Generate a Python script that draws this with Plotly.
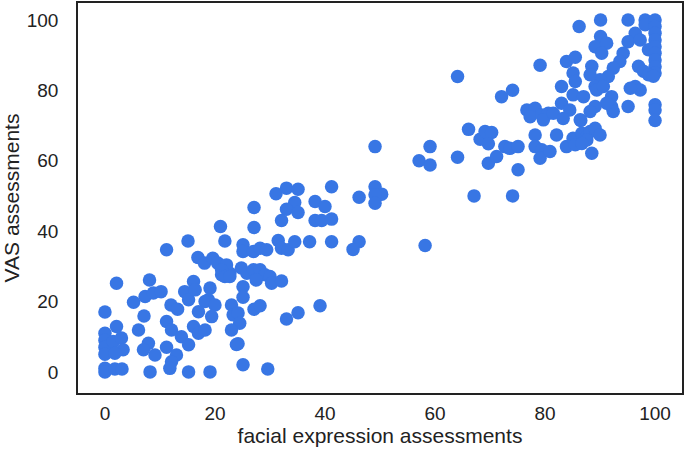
import plotly.graph_objects as go

# facial expression assessments (x) and VAS assessments (y)
facial = [
    0, 0, 0, 0, 0, 0, 0,
    1.5, 3, 3.3, 1.8, 1.8, 3.1,
    2.1, 2.1,
    5.2, 6.1, 7.1, 7.3, 8.1, 8.8, 10.2,
    7.9, 7, 9.1, 8.2,
    11.2, 12.1, 13.9, 15.2, 11.2,
    13, 12.1, 11.8, 15.2, 19.1,
    12, 13.2, 11.2,
    14.5, 15.2, 16.1, 16.4,
    16.1, 17, 18.2,
    19.1, 18.8, 18.2, 20, 17, 19.4,
    21.2, 22.7,
    23, 23.3, 24.2, 24.5, 23, 24.2, 25.1, 29.6,
    15.1, 21.8, 21,
    16.9, 18.1, 19.6, 20.5, 22.1, 21.2, 21.8, 22.7,
    24.8, 25.8, 27, 28.2, 29.1, 27.5, 30, 30.3, 32.1, 25.1, 25.1,
    27.1, 28.2, 33, 35.1, 39.1, 23.9,
    25.1, 25.1, 27, 28.2, 29.4, 31.5, 32.1, 33.3, 34.5, 37.2, 41.2,
    27.1, 27.1, 32.1, 31.1, 33, 35.1, 34.5, 33, 35.1, 38.2, 40, 38.2, 39.4, 41.2, 41.2,
    46.2, 49.1, 50.3, 49.1, 49.1, 49.1, 46.2, 45.1,
    58.2, 57.1, 59.1, 59.1, 64.1, 64.1, 67.1, 74.1,
    66.1, 68.2, 69.1, 70.3, 69.7, 69.7, 71.2,
    72.7, 73.6, 75.1, 75.1,
    72.1, 74.1, 79.1,
    76.7, 78.2, 77.3, 79.4, 80.6, 79.7, 81.5, 83, 84.5, 83.3,
    86.5,
    78.2, 78.2, 79.4, 79.1, 80.9,
    82.1, 83.9, 85.1, 85.5, 86.7, 87.6, 88.2, 89.1, 90, 88.5, 87.6, 86.7,
    83.9, 85.5, 85.1, 85.5, 83, 85.1, 87,
    86.2, 90.1, 95.1, 98.2, 98.2, 100,
    96.4, 95.1, 97.3, 98.8,
    100, 100, 100, 100, 100, 100, 100, 100, 100, 100, 100,
    90.1, 89.1, 91.2, 90.3,
    94.2, 93.6, 92.4, 91.5, 90, 88.5, 88.2, 89.1,
    97, 97.9, 98.8, 99.7, 96.4, 97.3, 95.5,
    89.4, 90.6,
    92.1, 92.1, 92.4, 91.2, 89.1, 88.2, 86.4,
    95.1,
]
vas = [
    17, 11, 9, 7, 5, 1, 0,
    8.6, 9.6, 6.3, 5.3, 0.8, 0.8,
    25.2, 12.9,
    19.8, 11.9, 15.9, 21.4, 26.1, 22.4, 22.8,
    8.1, 6.3, 4.8, 0,
    14.3, 11.9, 10, 7.7, 7,
    4.8, 2.9, 1, 0, 0,
    19, 17.8, 34.7,
    22.8, 20.5, 25.7, 23.3,
    12.9, 11, 11.9,
    23.8, 20.5, 20, 19, 17.1, 15.7,
    27.6, 28,
    19, 16.2, 16.7, 13.8, 11.9, 8, 2, 0.8,
    37.2, 37.2, 41.3,
    32.5, 30.9, 32.3, 30.9, 30.4, 29, 27.1, 27.1,
    29.5, 28, 29, 29, 27.6, 26.1, 27.1, 25.2, 25.8, 24.2, 21.2,
    17.8, 18.8, 15, 16.8, 18.8, 7.8,
    36.1, 34.2, 34.2, 35.1, 34.7, 37.3, 35.1, 34.7, 37, 37, 37,
    46.7, 41, 43, 50.6, 52.2, 51.9, 48.1, 46.2, 45.3, 48.4, 47, 43, 43, 43.4, 52.6,
    49.6, 52.6, 50.5, 50.3, 47.9, 64, 37, 34.8,
    35.9, 60, 58.8, 64, 61, 83.9, 50, 50,
    68.9, 66.1, 68.3, 68, 64.8, 59.3, 61.2,
    64, 63.5, 64, 57.4,
    78.2, 80, 87.1,
    74.4, 74.9, 72.5, 73, 73.5, 71.6, 73.5, 76.3, 74.4, 72,
    71.4,
    67.3, 64, 63.1, 60.7, 62.6,
    67.3, 64, 66.4, 64.5, 67.8, 66.9, 68.3, 69.2, 67.3, 62.1, 65.9, 64.9,
    88.2, 89.4, 84.9, 82.5, 81.1, 78.7, 78.2,
    98.1, 100, 100, 100, 98.6, 100,
    96.2, 93.8, 94.3, 91.5,
    98.1, 96.2, 94.3, 92.4, 90.5, 88.6, 86.7, 84.9, 75.9, 74.4, 71.4,
    95.3, 92.4, 93.4, 90.5,
    90.5, 88.2, 86.3, 83.9, 83, 86.8, 84.4, 81.1,
    86.8, 85.4, 84.4, 84, 81.1, 80.1, 80.6,
    80.1, 81.1,
    78.2, 75.4, 74, 76.3, 75.4, 74, 71.6,
    75.4,
]
tick_vals = [0, 20, 40, 60, 80, 100]

FONT = "Liberation Sans, Arial, sans-serif"

fig = go.Figure(go.Scatter(
    x=facial, y=vas, mode="markers",
    marker=dict(size=13.5, color="rgb(56,118,228)", line=dict(width=0)),
))

axis_common = dict(
    showgrid=False, zeroline=False, showline=True, mirror=True,
    linecolor="#222222", linewidth=1.5,
    ticks="outside", tickcolor="rgba(0,0,0,0)",
    tickvals=tick_vals, automargin=False,
    tickfont=dict(family=FONT, size=19, color="#222222"),
    title_font=dict(family=FONT, size=21, color="#222222"),
)

fig.update_layout(
    width=685, height=451,
    margin=dict(l=78, r=3, t=3, b=58),
    plot_bgcolor="white", paper_bgcolor="white",
    showlegend=False,
    xaxis=dict(range=[-4.9, 104.9], ticklen=2,
               title=dict(text="facial expression assessments", standoff=4), **axis_common),
    yaxis=dict(range=[-6, 104.8], ticklen=14,
               title=dict(text="VAS assessments", standoff=6), **axis_common),
)

fig.write_html(
    "out.html",
    config={"displayModeBar": False},
    post_script="document.body.style.margin='0';document.body.style.overflow='hidden';",
)
